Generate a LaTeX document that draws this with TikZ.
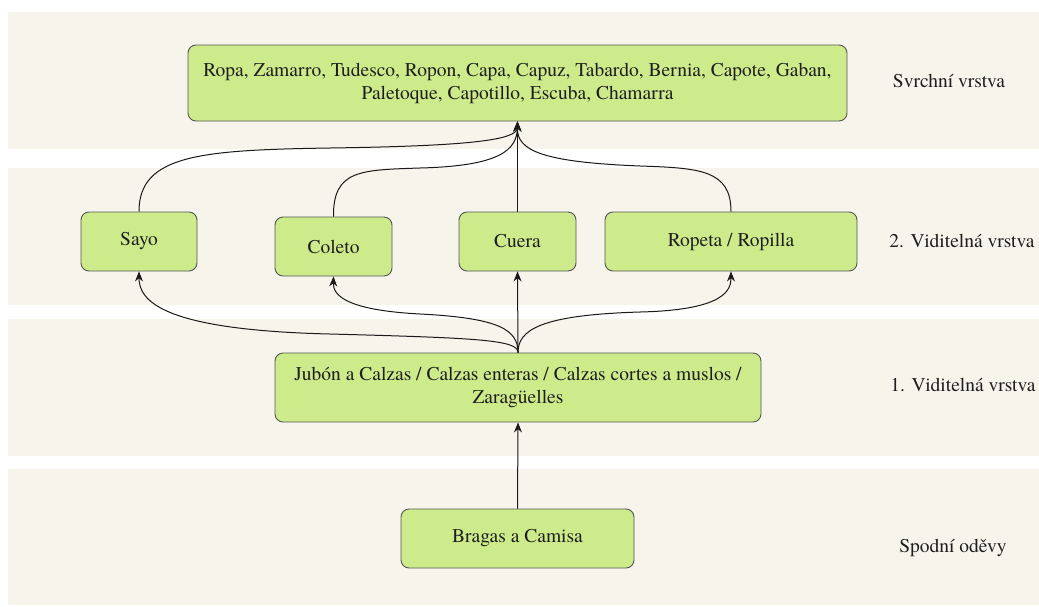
\documentclass[tikz,border=0pt]{standalone}
\usepackage{fontspec}
\IfFontExistsTF{texgyretermes-regular.otf}
  {\setmainfont{texgyretermes-regular.otf}}
  {\setmainfont{DejaVu Serif}}
\usetikzlibrary{arrows.meta}
\definecolor{bandfill}{HTML}{F7F4EC}
\definecolor{boxfill}{HTML}{CDEB8B}
\definecolor{boxline}{HTML}{555555}
\definecolor{inktext}{HTML}{1E1E1E}
\tikzset{
  band/.style={fill=bandfill, draw=none},
  garment/.style={draw=boxline, fill=boxfill, line width=0.9pt, rounded corners=8pt,
    inner sep=0pt, align=center, text=inktext, font=\fontsize{19.5}{23.5}\selectfont},
  layerlabel/.style={text=inktext, font=\fontsize{19.5}{23.5}\selectfont, inner sep=0pt},
  link/.style={draw=black!90, line width=1pt, -{Stealth[length=10pt,width=8pt]}}
}
\begin{document}
\begin{tikzpicture}[x=1pt,y=-1pt]
  \useasboundingbox (0,0) rectangle (1039,606);
  \fill[white] (0,0) rectangle (1039,606);
  % layer bands
  \path[band] (8,12) rectangle (1039,149);
  \path[band] (8,168) rectangle (1039,305);
  \path[band] (8,319) rectangle (1039,456);
  \path[band] (8,469) rectangle (1039,605);

  % layer names
  \node[layerlabel] (lSvr) at (949,81) {Svrchní vrstva};
  \node[layerlabel] (lV2) at (962,241) {2. Viditelná vrstva};
  \node[layerlabel] (lV1) at (963,385) {1. Viditelná vrstva};
  \node[layerlabel] (lSp) at (953,548) {Spodní oděvy};

  % garments
  \node[garment, minimum width=659pt, minimum height=76pt] (top) at (517.5,83)
    {\rule{0pt}{0pt}\raisebox{-2pt}{\begin{tabular}{@{}c@{}}Ropa, Zamarro, Tudesco, Ropon, Capa, Capuz, Tabardo, Bernia, Capote, Gaban,\\[-0.5pt]
     Paletoque, Capotillo, Escuba, Chamarra\end{tabular}}};
  \node[garment, minimum width=116pt, minimum height=59pt] (sayo) at (139,241.5) {\raisebox{-2pt}{Sayo}};
  \node[garment, minimum width=117pt, minimum height=59pt] (coleto) at (333.5,246.5) {\raisebox{-2pt}{Coleto}};
  \node[garment, minimum width=117pt, minimum height=59pt] (cuera) at (517.5,241.5) {\raisebox{-2pt}{Cuera}};
  \node[garment, minimum width=252pt, minimum height=59pt] (ropeta) at (731,241.5) {\raisebox{-2pt}{Ropeta / Ropilla}};
  \node[garment, minimum width=486pt, minimum height=69pt] (jubon) at (518,387.5)
    {\raisebox{-2pt}{\begin{tabular}{@{}c@{}}Jubón a Calzas / Calzas enteras / Calzas cortes a muslos /\\[-0.5pt] Zaragüelles\end{tabular}}};
  \node[garment, minimum width=233pt, minimum height=59pt] (bragas) at (517.5,538.5) {\raisebox{-2pt}{Bragas a Camisa}};

  % second visible layer -> outer layer
  \draw[link] (sayo.north) .. controls (139,155) and (200,150) .. (330,148)
    .. controls (470,146) and (517,140) .. (top.south);
  \draw[link] (coleto.north) .. controls (333,170) and (360,170) .. (420,168)
    .. controls (500,166) and (517,150) .. (top.south);
  \draw[link] (cuera.north) -- (top.south);
  \draw[link] (ropeta.north) .. controls (731,170) and (700,168) .. (640,166)
    .. controls (540,162) and (517,150) .. (top.south);

  % first visible layer -> second visible layer
  \draw[link] (jubon.north) .. controls (518,340) and (480,338) .. (330,334)
    .. controls (160,330) and (139,300) .. (sayo.south);
  \draw[link] (jubon.north) .. controls (518,330) and (500,318) .. (420,314)
    .. controls (345,310) and (333,295) .. (coleto.south);
  \draw[link] (jubon.north) -- (cuera.south);
  \draw[link] (jubon.north) .. controls (518,330) and (540,315) .. (640,312)
    .. controls (725,310) and (731,290) .. (ropeta.south);

  % underwear -> first visible layer
  \draw[link] (bragas.north) -- (jubon.south);
\end{tikzpicture}
\end{document}
